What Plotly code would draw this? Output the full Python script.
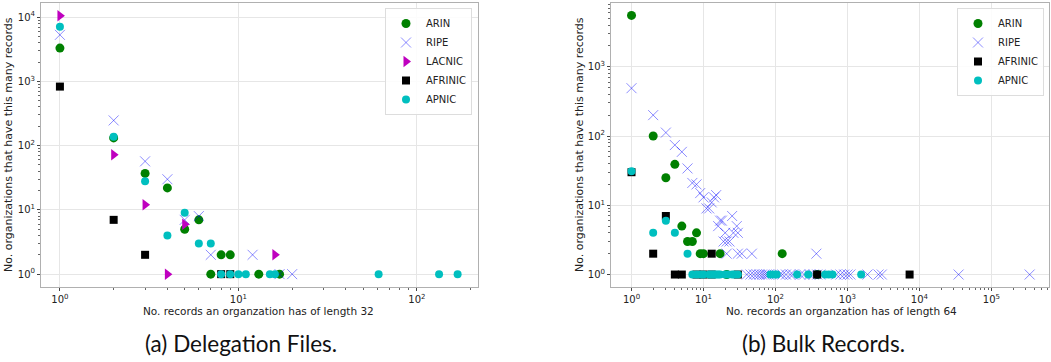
import plotly.graph_objects as go

# ---------------- data: (a) Delegation Files ----------------
arin_a_x = [1, 2, 3, 4, 5, 6, 7, 8, 9, 13, 17]
arin_a_y = [3300, 132, 37, 22, 5, 7, 1, 2, 2, 1, 1]
ripe_a_x = [1, 2, 3, 4, 5, 6, 7, 12, 17, 20]
ripe_a_y = [5300, 247, 57, 30, 7, 8, 2, 2, 1, 1]
lacnic_a_x = [1, 2, 3, 4, 5, 16]
lacnic_a_y = [10500, 72, 12, 1, 6, 2]
afrinic_a_x = [1, 2, 3, 8, 9]
afrinic_a_y = [830, 7, 2, 1, 1]
apnic_a_x = [1, 2, 3, 4, 5, 6, 7, 8, 9, 10, 11, 15, 16, 61, 133, 169]
apnic_a_y = [7100, 138, 28, 4, 9, 3, 3, 1, 1, 1, 1, 1, 1, 1, 1, 1]

# ---------------- data: (b) Bulk Records ----------------
arin_b_x = [1, 2, 3, 4, 5, 6, 7, 8, 9, 10, 17, 124, 21, 380]
arin_b_y = [5500, 100, 25, 39, 5, 3, 3, 4, 2, 2, 2, 2, 1, 1]
ripe_b_x = [1, 2, 3, 4, 5, 6, 7, 8, 9, 10, 11, 12, 13, 14, 15, 16, 17, 18, 19,
            20, 21, 23, 25, 26, 29, 30,
            21, 30, 34, 47, 370,
            40, 45, 50, 55, 60, 65, 70, 75, 80, 115, 125, 140, 160, 175, 220,
            250, 300, 340, 380, 420, 700, 800, 900, 1000, 1100, 1900, 2700,
            3000, 35000, 340000]
ripe_b_y = [490, 200, 112, 74, 59, 34, 21, 20, 15, 13, 9, 9, 11, 13, 14, 5, 6, 6, 3,
            4, 3, 3, 7, 4, 5, 4,
            2, 2, 2, 2, 2,
            1, 1, 1, 1, 1, 1, 1, 1, 1, 1, 1, 1, 1, 1, 1,
            1, 1, 1, 1, 1, 1, 1, 1, 1, 1, 1, 1,
            1, 1, 1]
afrinic_b_x = [1, 2, 3, 4, 5, 8, 10, 13, 13, 30, 380, 7300]
afrinic_b_y = [30, 2, 7, 1, 1, 1, 1, 2, 1, 1, 1, 1]
apnic_b_x = [1, 2, 3, 4, 6, 7, 8, 9, 10, 12, 13, 14, 15, 16, 17, 20, 22, 25, 27,
             30, 85, 95, 104, 200, 285, 490, 550, 620, 1550]
apnic_b_y = [31, 4, 6, 4, 2, 1, 1, 1, 1, 1, 1, 1, 1, 1, 1, 1, 1, 1, 1,
             1, 1, 1, 1, 1, 1, 1, 1, 1, 1]

# tick labels
xa_tickvals = [1, 10, 100]
xa_ticktext = ["10<sup>0</sup>", "10<sup>1</sup>", "10<sup>2</sup>"]
ya_tickvals = [1, 10, 100, 1000, 10000]
ya_ticktext = ["10<sup>0</sup>", "10<sup>1</sup>", "10<sup>2</sup>", "10<sup>3</sup>", "10<sup>4</sup>"]
xb_tickvals = [1, 10, 100, 1000, 10000, 100000]
xb_ticktext = ["10<sup>0</sup>", "10<sup>1</sup>", "10<sup>2</sup>", "10<sup>3</sup>",
               "10<sup>4</sup>", "10<sup>5</sup>"]
yb_tickvals = [1, 10, 100, 1000]
yb_ticktext = ["10<sup>0</sup>", "10<sup>1</sup>", "10<sup>2</sup>", "10<sup>3</sup>"]

W, H = 1051, 362
FONT = "DejaVu Sans"

GREEN = "#008000"
BLUE = "rgba(0,0,255,0.45)"
MAG = "#bf00bf"
BLACK = "#000000"
CYAN = "#00bfbf"


def minor_vals(lo, hi):
    vals = []
    d = 10.0 ** lo
    while d <= 10.0 ** hi:
        for m in range(2, 10):
            vals.append(m * d)
        d *= 10
    return vals


fig = go.Figure()


def add(x, y, name, color, symbol, size, xa, ya, legend, line=None):
    marker = dict(color=color, symbol=symbol, size=size)
    marker["line"] = line if line else dict(width=0)
    fig.add_trace(go.Scatter(x=x, y=y, mode="markers", name=name, marker=marker,
                             xaxis=xa, yaxis=ya, legend=legend))


xthin = dict(width=1, color=BLUE)
add(arin_a_x, arin_a_y, "ARIN", GREEN, "circle", 9, "x", "y", "legend")
add(ripe_a_x, ripe_a_y, "RIPE", BLUE, "x-thin", 10, "x", "y", "legend", xthin)
add(lacnic_a_x, lacnic_a_y, "LACNIC", MAG, "triangle-right", 10, "x", "y", "legend")
add(afrinic_a_x, afrinic_a_y, "AFRINIC", BLACK, "square", 8, "x", "y", "legend")
add(apnic_a_x, apnic_a_y, "APNIC", CYAN, "circle", 8, "x", "y", "legend")

add(arin_b_x, arin_b_y, "ARIN", GREEN, "circle", 9, "x2", "y2", "legend2")
add(ripe_b_x, ripe_b_y, "RIPE", BLUE, "x-thin", 10, "x2", "y2", "legend2", xthin)
add(afrinic_b_x, afrinic_b_y, "AFRINIC", BLACK, "square", 8, "x2", "y2", "legend2")
add(apnic_b_x, apnic_b_y, "APNIC", CYAN, "circle", 8, "x2", "y2", "legend2")

ydom = [1 - 287 / H, 1 - 3 / H]
axcommon = dict(type="log", showgrid=True, gridcolor="#e6e6e6", gridwidth=1,
                showline=True, linecolor="#b0b0b0", linewidth=1, mirror=True,
                ticks="outside", ticklen=3, tickcolor="#444", zeroline=False,
                tickfont=dict(family=FONT, size=10, color="#222"))

legcommon = dict(xanchor="right", yanchor="top", y=1 - 8 / H,
                 bgcolor="rgba(255,255,255,0.85)", bordercolor="#dddddd", borderwidth=1,
                 font=dict(family=FONT, size=10, color="#222"), itemwidth=30,
                 tracegroupgap=0)

fig.update_layout(
    width=W, height=H, margin=dict(l=0, r=0, t=0, b=0),
    paper_bgcolor="white", plot_bgcolor="white",
    font=dict(family=FONT, size=11, color="#222"),
    xaxis=dict(axcommon, domain=[41 / W, 478 / W], range=[-0.106, 2.342],
               tickvals=xa_tickvals, ticktext=xa_ticktext, anchor="y",
               minor=dict(tickvals=minor_vals(0, 2), ticks="outside", ticklen=2,
                          tickcolor="#666", showgrid=False)),
    yaxis=dict(axcommon, domain=ydom, range=[-0.2, 4.22],
               tickvals=ya_tickvals, ticktext=ya_ticktext, anchor="x",
               minor=dict(tickvals=minor_vals(0, 4), ticks="outside", ticklen=2,
                          tickcolor="#666", showgrid=False)),
    xaxis2=dict(axcommon, domain=[611 / W, 1049 / W], range=[-0.285, 5.8],
                tickvals=xb_tickvals, ticktext=xb_ticktext, anchor="y2",
                minor=dict(tickvals=minor_vals(0, 5), ticks="outside", ticklen=2,
                           tickcolor="#666", showgrid=False)),
    yaxis2=dict(axcommon, domain=ydom, range=[-0.18, 3.92],
                tickvals=yb_tickvals, ticktext=yb_ticktext, anchor="x2",
                minor=dict(tickvals=minor_vals(0, 3), ticks="outside", ticklen=2,
                           tickcolor="#666", showgrid=False)),
    legend=dict(legcommon, x=472 / W),
    legend2=dict(legcommon, x=1044 / W),
    showlegend=True,
)

ann = [
    dict(text="No. records an organzation has of length 32", x=258.5 / W, y=1 - 311 / H,
         font=dict(family=FONT, size=10.5, color="#222")),
    dict(text="No. records an organzation has of length 64", x=841 / W, y=1 - 311 / H,
         font=dict(family=FONT, size=10.5, color="#222")),
    dict(text="No. organizations that have this many records", x=8 / W, y=1 - 145 / H,
         textangle=-90, font=dict(family=FONT, size=11, color="#222")),
    dict(text="No. organizations that have this many records", x=579 / W, y=1 - 145 / H,
         textangle=-90, font=dict(family=FONT, size=11, color="#222")),
    dict(text="(a) Delegation Files.", x=241 / W, y=1 - 343 / H,
         font=dict(family="Lato", size=22.5, color="#111")),
    dict(text="(b) Bulk Records.", x=823 / W, y=1 - 343 / H,
         font=dict(family="Lato", size=22.5, color="#111")),
]
for a in ann:
    a.update(xref="paper", yref="paper", showarrow=False, xanchor="center", yanchor="middle")
    fig.add_annotation(**a)

fig.write_html("out.html")
